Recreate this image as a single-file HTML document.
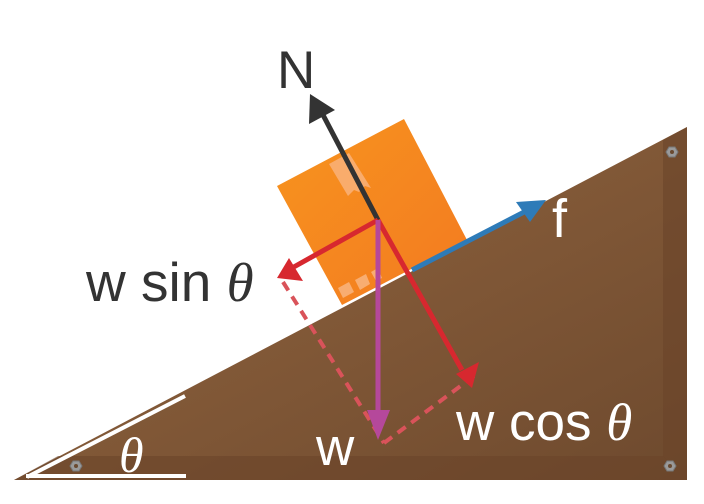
<!DOCTYPE html>
<html><head><meta charset="utf-8"><style>html,body{margin:0;padding:0;background:#fff}svg{display:block}</style></head><body>
<svg width="704" height="504" viewBox="0 0 704 504" xmlns="http://www.w3.org/2000/svg">
<defs>
<linearGradient id="wood" x1="0" y1="0" x2="1" y2="1">
<stop offset="0" stop-color="#946640"/><stop offset="1" stop-color="#6e4a2e"/></linearGradient>
<linearGradient id="box" x1="0" y1="0" x2="1" y2="1">
<stop offset="0" stop-color="#f7941e"/><stop offset="1" stop-color="#f37a21"/></linearGradient>
</defs>
<polygon points="14,480 687,127 687,480" fill="url(#wood)"/>
<polygon points="663,140 687,127 687,480 663,456" fill="#6a4429" opacity="0.6"/>
<polygon points="58,456 663,456 687,480 14,480" fill="#6a4429" opacity="0.6"/>
<g fill="#9a9a9a" stroke="#777" stroke-width="1">
<polygon points="70,466 73,461 79,461 82,466 79,471 73,471"/>
<polygon points="666,152 669,147 675,147 678,152 675,157 669,157"/>
<polygon points="664,466 667,461 673,461 676,466 673,471 667,471"/>
</g>
<g fill="#6a4a30"><circle cx="76" cy="466" r="2"/><circle cx="672" cy="152" r="2"/><circle cx="670" cy="466" r="2"/></g>
<polygon points="277,186 404,119 467,240 342,305" fill="url(#box)"/>
<polygon points="329,164 349,153 371,188 365,186 359,192 354,190 348,196" fill="#f9b27a" opacity="0.85"/>
<g fill="#f9b27a" opacity="0.9">
<polygon points="338,288 349,282 354,292 343,298"/>
<polygon points="355,280 366,274 370,284 360,290"/>
<polygon points="371,272 378,268 382,278 376,281"/>
</g>
<g fill="none" stroke="#fff" stroke-width="4">
<line x1="26" y1="476" x2="186" y2="476"/>
<line x1="27" y1="477" x2="185" y2="396"/>
</g>
<g stroke="#d9535a" stroke-width="4" stroke-dasharray="10,7" fill="none">
<line x1="283" y1="282" x2="384" y2="443"/>
<line x1="384" y1="443" x2="478" y2="373"/>
</g>
<line x1="412" y1="270" x2="530" y2="209" stroke="#2e7bb8" stroke-width="5"/>
<polygon points="546,200 516,202 530,222" fill="#2e7bb8"/>
<line x1="378" y1="220" x2="322" y2="113" stroke="#333" stroke-width="5"/>
<polygon points="310,94 309,124 335,110" fill="#333"/>
<line x1="378" y1="220" x2="292" y2="268" stroke="#d7282f" stroke-width="5"/>
<polygon points="277,278 303,281 289,258" fill="#d7282f"/>
<line x1="378" y1="220" x2="462" y2="370" stroke="#d7282f" stroke-width="5"/>
<polygon points="472,388 479,362 456,374" fill="#d7282f"/>
<line x1="378" y1="220" x2="378" y2="415" stroke="#b5489b" stroke-width="5"/>
<polygon points="378,440 367,410 390,410" fill="#b5489b"/>
<g font-family="Liberation Sans, sans-serif">
<text x="277" y="88" font-size="53" fill="#333">N</text>
<text x="552" y="237" font-size="54" fill="#fff">f</text>
<text x="86" y="301" font-size="55" fill="#333">w sin <tspan font-family="Liberation Serif, serif" font-style="italic">θ</tspan></text>
<text x="316" y="465" font-size="53" fill="#fff">w</text>
<text x="456" y="440" font-size="53" fill="#fff">w cos <tspan font-family="Liberation Serif, serif" font-style="italic">θ</tspan></text>
<text x="119" y="472" font-size="50" fill="#fff" font-family="Liberation Serif, serif" font-style="italic">θ</text>
</g>
</svg>
</body></html>
